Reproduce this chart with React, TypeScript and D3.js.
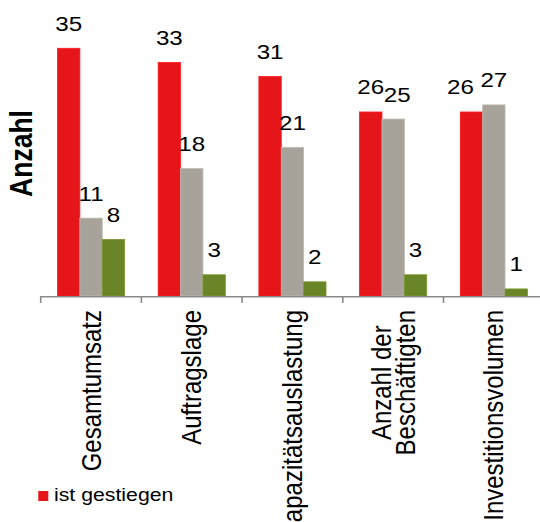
import { useEffect, useRef } from 'react';
import * as d3 from 'd3';

// Chart data
const categories = ['Gesamtumsatz', 'Auftragslage', 'Kapazitätsauslastung', 'Anzahl der\nBeschäftigten', 'Investitionsvolumen'];
const seriesKeys = ['gestiegen', 'gleich', 'gesunken'];
const seriesColors = ['#E61519', '#A7A39B', '#6A8527'];
const legendLabels = ['ist gestiegen'];
const gestiegen = [35, 33, 31, 26, 26];
const gleich = [11, 18, 21, 25, 27];
const gesunken = [8, 3, 2, 3, 1];
const yDomain = [0, 40];
// small label nudges to avoid overlapping numbers: [category, series, dx]
const labelShift: [number, number, number][] = [[3, 1, 4], [4, 0, -11]];

const FONT = '"Liberation Sans", Arial, sans-serif';
const SX = 1.15; // text is drawn slightly wide

export default function App() {
  const svgRef = useRef<SVGSVGElement>(null);

  useEffect(() => {
    if (!svgRef.current) return;
    const svg = d3.select(svgRef.current);
    svg.selectAll('*').remove();

    const values = [gestiegen, gleich, gesunken];
    const baseY = 296;

    const x0 = d3.scaleBand<number>()
      .domain(d3.range(categories.length))
      .range([40.7, 544.2]);

    const x1 = d3.scaleBand<string>()
      .domain(seriesKeys)
      .range([0, x0.bandwidth()])
      .paddingInner(0)
      .paddingOuter(0.75);

    const y = d3.scaleLinear().domain(yDomain).range([baseY, 12.9]);

    const rows = categories.flatMap((c, i) =>
      seriesKeys.map((k, s) => ({ i, s, k, v: values[s][i] }))
    );

    // Bars
    svg.append('g')
      .selectAll('rect')
      .data(rows)
      .enter()
      .append('rect')
      .attr('x', d => (x0(d.i) || 0) + (x1(d.k) || 0))
      .attr('y', d => y(d.v))
      .attr('width', x1.bandwidth())
      .attr('height', d => baseY - y(d.v))
      .attr('fill', d => seriesColors[d.s])
      .attr('stroke', d => d3.color(seriesColors[d.s])!.brighter(0.35).formatHex())
      .attr('stroke-width', 0.8);

    // Value labels
    svg.append('g')
      .selectAll('text')
      .data(rows)
      .enter()
      .append('text')
      .attr('transform', d => {
        const shift = labelShift.find(l => l[0] === d.i && l[1] === d.s);
        const cx = (x0(d.i) || 0) + (x1(d.k) || 0) + x1.bandwidth() / 2 + (shift ? shift[2] : 0);
        return `translate(${cx}, ${y(d.v) - 17.5}) scale(${SX}, 1)`;
      })
      .attr('text-anchor', 'middle')
      .attr('font-family', FONT)
      .attr('font-size', 21)
      .attr('fill', '#000')
      .text(d => d.v);

    // Category axis
    const axis = svg.append('g');
    axis.append('line')
      .attr('x1', 40)
      .attr('x2', 540)
      .attr('y1', baseY + 0.8)
      .attr('y2', baseY + 0.8)
      .attr('stroke', '#8A8A8A')
      .attr('stroke-width', 1.6);

    const tickXs = [...x0.domain().map(i => x0(i) || 0), x0.range()[1]];
    axis.selectAll('.tick')
      .data(tickXs)
      .enter()
      .append('line')
      .attr('x1', d => d)
      .attr('x2', d => d)
      .attr('y1', baseY)
      .attr('y2', baseY + 7)
      .attr('stroke', '#8A8A8A')
      .attr('stroke-width', 1.6);

    // Category labels, rotated, lines centered on each other
    categories.forEach((c, i) => {
      const lines = c.split('\n');
      const cx = (x0(i) || 0) + x0.bandwidth() / 2;
      const texts = lines.map(line =>
        svg.append('text')
          .attr('text-anchor', 'middle')
          .attr('font-family', FONT)
          .attr('font-size', 24)
          .attr('fill', '#000')
          .text(line)
      );
      const maxLen = d3.max(texts, t => (t.node() as SVGTextElement).getComputedTextLength()) || 0;
      texts.forEach((t, j) => {
        const bx = cx + 9.5 + (j - (lines.length - 1) / 2) * 24;
        t.attr('transform', `translate(${bx}, ${310 + maxLen / 2}) scale(${SX}, 1) rotate(-90)`);
      });
    });

    // Y axis title
    svg.append('text')
      .attr('transform', `translate(32, 153.5) scale(${SX}, 1) rotate(-90)`)
      .attr('text-anchor', 'middle')
      .attr('font-family', FONT)
      .attr('font-size', 26.5)
      .attr('font-weight', 700)
      .attr('fill', '#000')
      .text('Anzahl');

    // Legend (only first entry visible)
    const legend = svg.append('g');
    legendLabels.forEach((label, i) => {
      legend.append('rect')
        .attr('x', 38.3)
        .attr('y', 491 + i * 26)
        .attr('width', 10)
        .attr('height', 10)
        .attr('fill', seriesColors[i]);
      legend.append('text')
        .attr('transform', `translate(54, ${501 + i * 26}) scale(${SX}, 1)`)
        .attr('font-family', FONT)
        .attr('font-size', 18.5)
        .attr('fill', '#000')
        .text(label);
    });
  }, []);

  return (
    <svg
      ref={svgRef}
      width={540}
      height={522}
      style={{ position: 'absolute', left: 0, top: 0, background: '#fff', display: 'block' }}
    />
  );
}
